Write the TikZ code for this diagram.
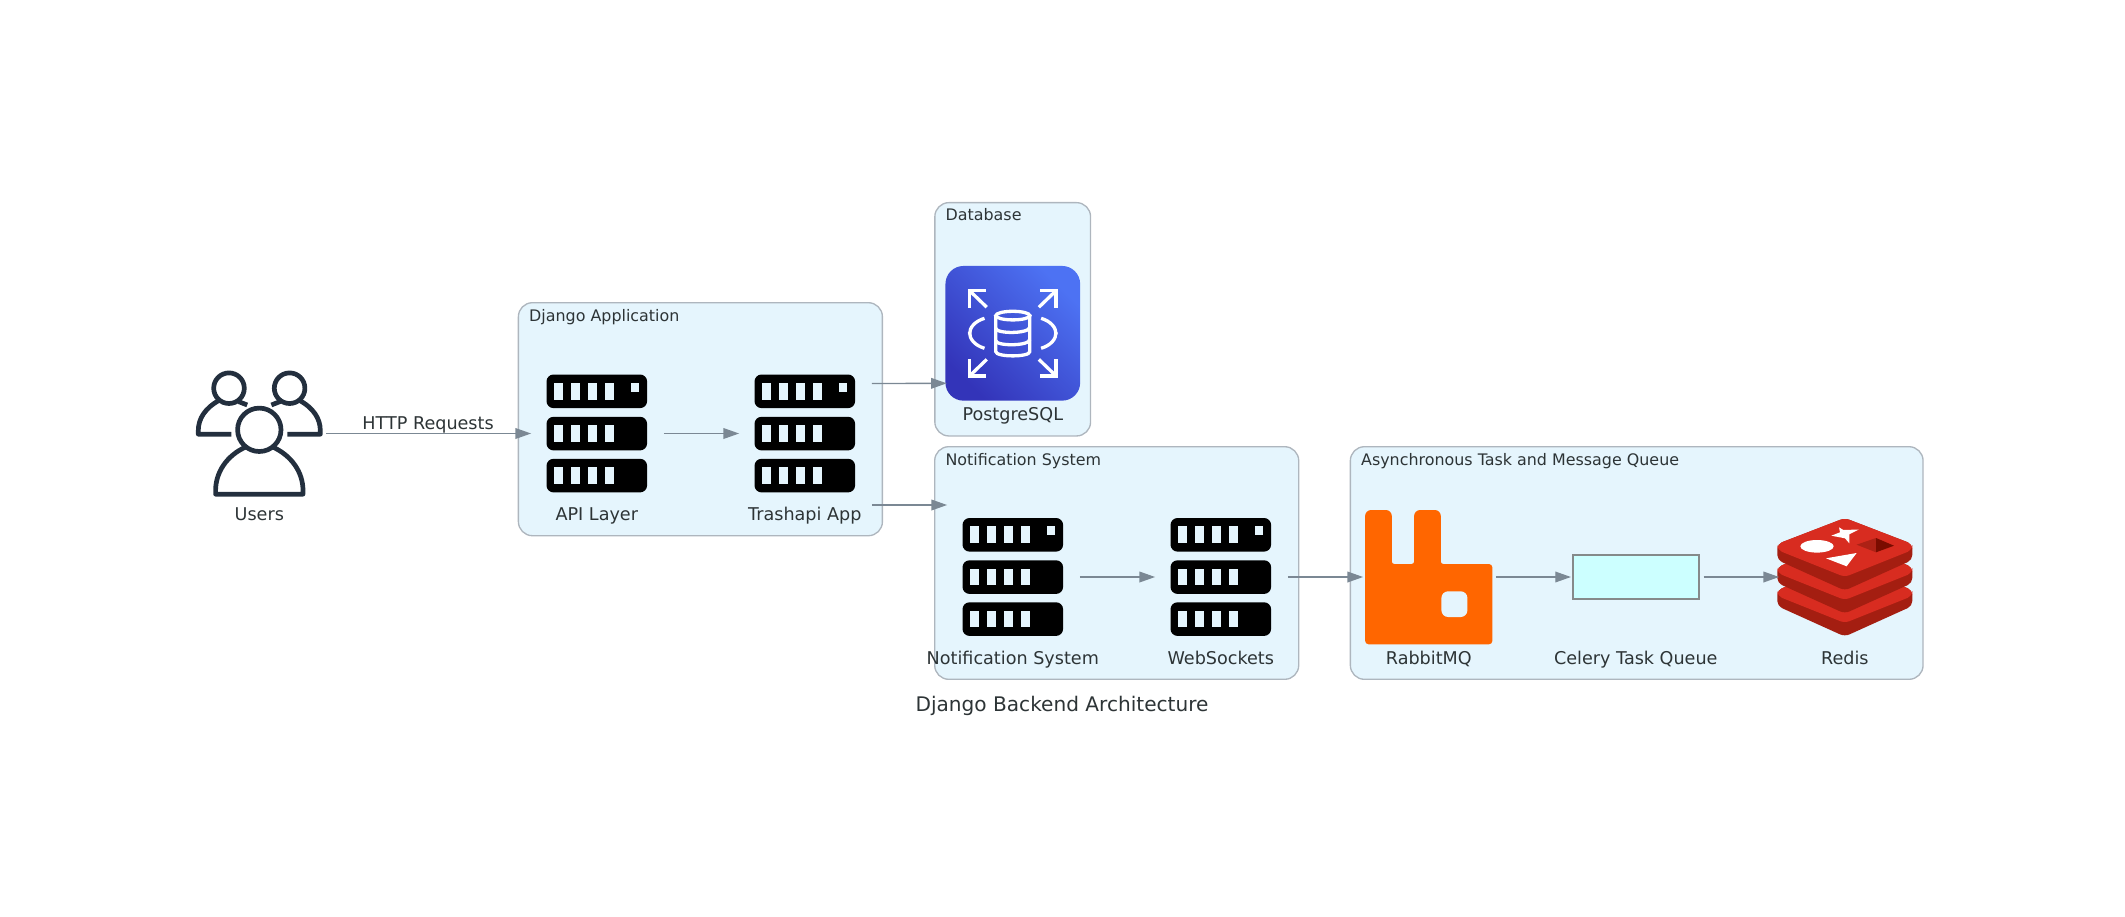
\documentclass[tikz,border=0pt]{standalone}
\usepackage{fontspec}
\setmainfont{DejaVu Sans}
\usetikzlibrary{arrows.meta}

\definecolor{clusterbg}{HTML}{E5F5FD}
\definecolor{clusterline}{HTML}{AEB6BE}
\definecolor{edgegray}{HTML}{7B8894}
\definecolor{textgray}{HTML}{2D3436}
\definecolor{usersblue}{HTML}{232F3E}
\definecolor{rabbitorange}{HTML}{FF6600}
\definecolor{redislight}{HTML}{D82C20}
\definecolor{redisdark}{HTML}{A41E11}
\definecolor{redispitleft}{HTML}{AD2115}
\definecolor{redispitright}{HTML}{7A0C00}
\definecolor{celeryfill}{HTML}{CCFFFF}
\definecolor{celeryline}{HTML}{858A8A}
\definecolor{pgtop}{HTML}{4D72F3}
\definecolor{pgbottom}{HTML}{3334B9}

\tikzset{
  iconbox/.style={minimum size=134pt,inner sep=0pt,outer sep=0pt},
  clusterbox/.style={draw=clusterline,fill=clusterbg,line width=1.33pt,rounded corners=14pt,inner sep=0pt,outer sep=0pt},
  clustertitle/.style={anchor=base west,inner sep=0pt,text=textgray,font=\fontsize{15.9}{19}\selectfont},
  nodelabel/.style={anchor=base,inner sep=0pt,text=textgray,font=\fontsize{17.6}{20}\selectfont},
  edgelabel/.style={anchor=base,inner sep=0pt,yshift=3.8pt,text=textgray,font=\fontsize{17.6}{20}\selectfont},
  servericon/.pic={
    \foreach \bartop in {-59,-16.7,25.3}{
      \fill[black,rounded corners=7pt] (-50.3,\bartop) rectangle ++(100.6,33.6);
      \foreach \slotx in {-42.6,-25.6,-8.6,8.1}
        \fill[clusterbg] (\slotx,\bartop+8.3) rectangle ++(9,16.7);
    }
    \fill[clusterbg] (33.7,-50.7) rectangle ++(8.7,8.7);
  },
  usersicon/.pic={
    \begin{scope}[draw=usersblue,line width=4.7pt,line join=round]
      \draw (0,-3.7) circle[radius=21.7];
      \draw (-13.5,13.5) .. controls (-32.7,22) and (-43.7,39) .. (-43.7,57) -- (-43.7,60.7)
        -- (43.7,60.7) -- (43.7,57) .. controls (43.7,39) and (32.7,22) .. (13.5,13.5);
      \foreach \side in {1,-1}{
        \begin{scope}[xscale=\side]
          \draw (-30.3,-45.3) circle[radius=15.3];
          \draw (-28,0.7) -- (-61,0.7) -- (-61,-3)
            .. controls (-61,-14.7) and (-54.4,-25.5) .. (-40.5,-33);
          \draw (-21,-32) -- (-13.3,-29);
        \end{scope}
      }
    \end{scope}
  },
  rabbiticon/.pic={
    \fill[rabbitorange,rounded corners=6pt] (-63.7,0) -- (-63.7,-67) -- (-37,-67)
      [rounded corners=2.5pt] -- (-37,-13) -- (-14.7,-13)
      [rounded corners=6pt] -- (-14.7,-67) -- (12,-67)
      [rounded corners=2.5pt] -- (12,-13)
      [rounded corners=3.5pt] -- (63.6,-13) -- (63.6,67.3) -- (-63.7,67.3) -- cycle;
    \fill[clusterbg,rounded corners=6.7pt] (12.6,14.3) rectangle (38.6,40);
  },
  redisicon/.pic={
    \foreach \layer in {46,23,0}{
      \fill[redisdark,rounded corners=5pt] (-67.5,-33+\layer) -- (0,-59+\layer) -- (67.5,-33+\layer)
        -- (67.5,-17+\layer) -- (0,13.5+\layer) -- (-67.5,-17+\layer) -- cycle;
      \fill[redislight,rounded corners=5pt] (-67.5,-33+\layer) -- (0,-59+\layer) -- (67.5,-33+\layer)
        -- (67.5,-27+\layer) -- (0,0+\layer) -- (-67.5,-27+\layer) -- cycle;
    }
    \fill[white] (-27.8,-30.7) ellipse[x radius=16.7,y radius=6.3];
    \fill[white] (-5.8,-49.7) -- (-1.5,-47) -- (14,-47.5) -- (4.5,-42.7) -- (4.5,-33.7)
      -- (0.2,-38.7) -- (-13.5,-41.3) -- (-4.8,-44.7) -- cycle;
    \fill[white] (-18.8,-18.7) -- (11.8,-24) -- (1.8,-10.7) -- cycle;
    \fill[redispitleft] (11.8,-32.3) -- (31.2,-39) -- (31.2,-24.7) -- cycle;
    \fill[redispitright] (31.2,-39) -- (49.2,-31.3) -- (31.2,-24.7) -- cycle;
  },
  pgicon/.pic={
    \begin{scope}[draw=white,line width=3.3pt]
      \draw (0,-17.7) ellipse[x radius=17,y radius=4.3];
      \draw (-17,-17.7) -- (-17,18.3) .. controls (-17,24) and (17,24) .. (17,18.3) -- (17,-17.7);
      \draw (-17,-5) .. controls (-17,0.7) and (17,0.7) .. (17,-5);
      \draw (-17,7.3) .. controls (-17,13) and (17,13) .. (17,7.3);
      \foreach \sx/\sy in {1/1,-1/1,1/-1,-1/-1}{
        \begin{scope}[xscale=\sx,yscale=\sy]
          \draw (-27,-42.7) -- (-43.3,-42.7) -- (-43.3,-27);
          \draw (-43.3,-42.7) -- (-27,-27);
          \draw (-28.3,-15) .. controls (-38,-12) and (-43.3,-6) .. (-43.3,0);
        \end{scope}
      }
    \end{scope}
  }
}

\begin{document}
\begin{tikzpicture}[x=1pt,y=-1pt,>={Triangle[length=15.7pt,width=10.7pt]},shorten >=-1.3pt,
  every edge/.style={draw=edgegray,line width=1.33pt}]
\useasboundingbox (0,0) rectangle (2125,916);

\node[clusterbox,minimum width=364pt,minimum height=233pt] (djangobox) at (700.4,419.2) {};
\node[clusterbox,minimum width=155.7pt,minimum height=233.3pt] (dbbox) at (1012.7,319.3) {};
\node[clusterbox,minimum width=364pt,minimum height=232.6pt] (notifbox) at (1116.7,563) {};
\node[clusterbox,minimum width=572.7pt,minimum height=232.6pt] (asyncbox) at (1636.7,563) {};

\node[clustertitle] (djangotitle) at ([xshift=10.6pt,yshift=-18.3pt]djangobox.north west) {Django Application};
\node[clustertitle] (dbtitle) at ([xshift=10.6pt,yshift=-18.3pt]dbbox.north west) {Database};
\node[clustertitle] (notiftitle) at ([xshift=10.6pt,yshift=-18.3pt]notifbox.north west) {Notification System};
\node[clustertitle] (asynctitle) at ([xshift=10.6pt,yshift=-18.3pt]asyncbox.north west) {Asynchronous Task and Message Queue};

\node[iconbox] (users) at (259.3,433.5) {};
\node[iconbox,node distance=337.5pt] (api)[right of=users] {};
\node[iconbox,node distance=208pt] (trash)[right of=api] {};
\node[iconbox,minimum size=134.7pt,rounded corners=18pt,top color=pgtop,bottom color=pgbottom,shading angle=-45] (pg) at (1012.8,333.3) {};
\node[iconbox,node distance=243.7pt] (notif)[below of=pg] {};
\node[iconbox,node distance=208pt] (websock)[right of=notif] {};
\node[iconbox,node distance=208pt] (rabbit)[right of=websock] {};
\node[inner sep=0pt,minimum width=125.7pt,minimum height=44pt,draw=celeryline,fill=celeryfill,line width=2pt,node distance=207pt] (celery)[right of=rabbit] {};
\node[iconbox,node distance=416pt] (redis)[right of=rabbit] {};

\pic at (users) {usersicon};
\foreach \srv in {api,trash,notif,websock}
  \pic at (\srv) {servericon};
\pic at (pg) {pgicon};
\pic at (rabbit) {rabbiticon};
\pic at (redis) {redisicon};

\node[nodelabel] (userslabel) at ([yshift=-87.2pt]users.center) {Users};
\node[nodelabel] (apilabel) at ([yshift=-87.2pt]api.center) {API Layer};
\node[nodelabel] (trashlabel) at ([yshift=-87.2pt]trash.center) {Trashapi App};
\node[nodelabel] (pglabel) at ([yshift=-87.2pt]pg.center) {PostgreSQL};
\node[nodelabel] (notiflabel) at ([yshift=-87.2pt]notif.center) {Notification System};
\node[nodelabel] (websocklabel) at ([yshift=-87.2pt]websock.center) {WebSockets};
\node[nodelabel] (rabbitlabel) at ([yshift=-87.2pt]rabbit.center) {RabbitMQ};
\node[nodelabel] (celerylabel) at ([yshift=-87.2pt]celery.center) {Celery Task Queue};
\node[nodelabel] (redislabel) at ([yshift=-87.2pt]redis.center) {Redis};
\node[nodelabel,font=\fontsize{20.1}{24}\selectfont] (graphtitle) at (1062,711.7) {Django Backend Architecture};

\path[->] (users) edge node[edgelabel]{HTTP Requests} (api)
          (api) edge (trash)
          ([yshift=50pt]trash.east) edge ([yshift=-50pt]pg.west)
          ([yshift=-71.5pt]trash.east) edge ([yshift=72pt]notif.west)
          (notif) edge (websock)
          (websock) edge (rabbit)
          (rabbit) edge[shorten >=1pt] (celery)
          ([xshift=4pt]celery.east) edge (redis);
\end{tikzpicture}
\end{document}
